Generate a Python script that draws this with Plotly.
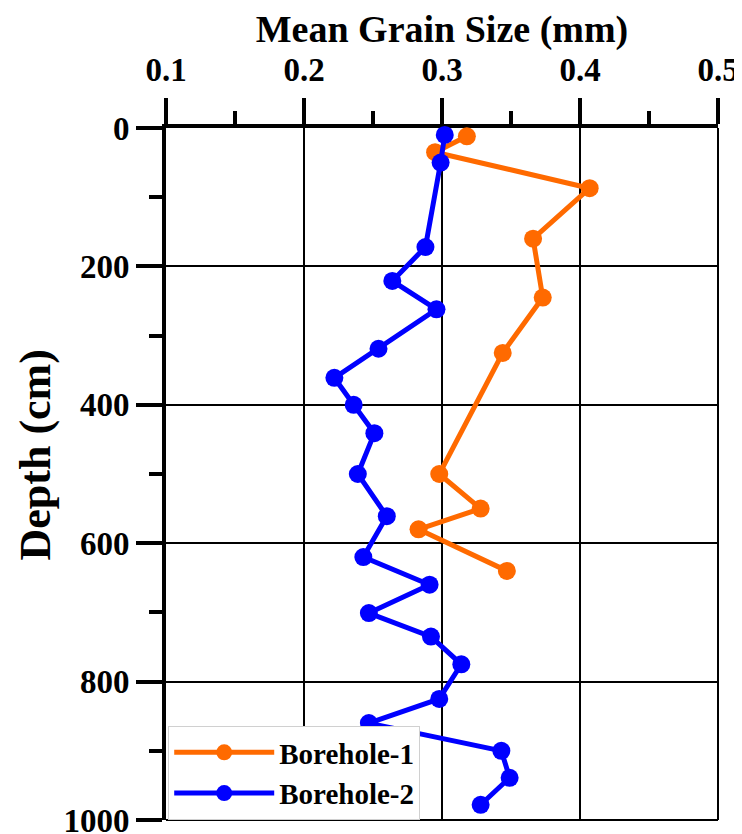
import plotly.graph_objects as go

# Borehole-1 (orange)
b1_size = [0.318, 0.295, 0.407, 0.366, 0.373, 0.344, 0.298, 0.328, 0.283, 0.347]
b1_depth = [12, 35, 87, 160, 245, 325, 500, 550, 580, 640]

# Borehole-2 (blue)
b2_size = [0.302, 0.299, 0.288, 0.264, 0.296, 0.254, 0.222, 0.236, 0.251, 0.239,
           0.260, 0.243, 0.291, 0.247, 0.292, 0.314, 0.298, 0.247, 0.343, 0.349, 0.328]
b2_depth = [10, 50, 172, 221, 262, 319, 361, 400, 441, 500,
            561, 620, 660, 701, 735, 775, 825, 860, 900, 939, 978]

x_ticks = [0.1, 0.2, 0.3, 0.4, 0.5]
y_ticks = [0, 200, 400, 600, 800, 1000]

FONT = "Liberation Serif"

fig = go.Figure()
fig.add_trace(go.Scatter(
    x=b1_size, y=b1_depth, mode="lines+markers", name="Borehole-1",
    line=dict(color="#FF6A00", width=5), marker=dict(color="#FF6A00", size=18),
    cliponaxis=False))
fig.add_trace(go.Scatter(
    x=b2_size, y=b2_depth, mode="lines+markers", name="Borehole-2",
    line=dict(color="#0000FF", width=5), marker=dict(color="#0000FF", size=18),
    cliponaxis=False))

fig.update_layout(
    width=734, height=826,
    margin=dict(l=158, r=24, t=120, b=14),
    plot_bgcolor="white", paper_bgcolor="white",
    font=dict(family=FONT, color="black", size=33, weight="bold"),
    xaxis=dict(
        side="top", range=[0.1, 0.5], tickvals=x_ticks,
        ticktext=[f"{v:.1f}" for v in x_ticks],
        showline=True, linecolor="black", linewidth=4,
        ticks="outside", ticklen=26, tickwidth=4, tickcolor="black",
        minor=dict(dtick=0.05, tick0=0.1, ticks="outside", ticklen=13, tickwidth=4,
                   tickcolor="black", showgrid=False),
        showgrid=True, gridcolor="black", gridwidth=2, zeroline=False,
        tickfont=dict(family=FONT, size=33, weight="bold"),
        ticklabelstandoff=4, ticklabeloverflow="allow", automargin=False,
        title=dict(text="Mean Grain Size (mm)", font=dict(family=FONT, size=38, weight="bold"), standoff=0),
        layer="below traces",
    ),
    yaxis=dict(
        range=[1000, 0], tickvals=y_ticks,
        showline=True, linecolor="black", linewidth=4,
        ticks="outside", ticklen=26, tickwidth=4, tickcolor="black",
        minor=dict(dtick=100, tick0=0, ticks="outside", ticklen=13, tickwidth=4,
                   tickcolor="black", showgrid=False),
        showgrid=True, gridcolor="black", gridwidth=2, zeroline=False,
        tickfont=dict(family=FONT, size=33, weight="bold"),
        ticklabelstandoff=0, ticklabeloverflow="allow", automargin=False,
        layer="below traces",
    ),
    legend=dict(
        x=0.004, y=0.0, xanchor="left", yanchor="bottom",
        bgcolor="white", bordercolor="#d0d0d0", borderwidth=1,
        font=dict(family=FONT, size=29, weight="bold", color="black"),
        itemwidth=100, tracegroupgap=0,
    ),
    showlegend=True,
)

# y-axis title placed as text to match reference position
fig.add_annotation(text="Depth (cm)", xref="paper", yref="paper",
                   x=-0.237, y=0.527, xanchor="center", yanchor="middle",
                   textangle=-90, showarrow=False,
                   font=dict(family=FONT, size=44, weight="bold", color="black"))

# right and bottom frame lines (thin)
fig.add_shape(type="line", xref="paper", yref="paper", x0=1, x1=1, y0=0, y1=1,
              line=dict(color="black", width=2), layer="below")
fig.add_shape(type="line", xref="paper", yref="paper", x0=0, x1=1, y0=0, y1=0,
              line=dict(color="black", width=2), layer="below")

fig.write_html("out.html")
